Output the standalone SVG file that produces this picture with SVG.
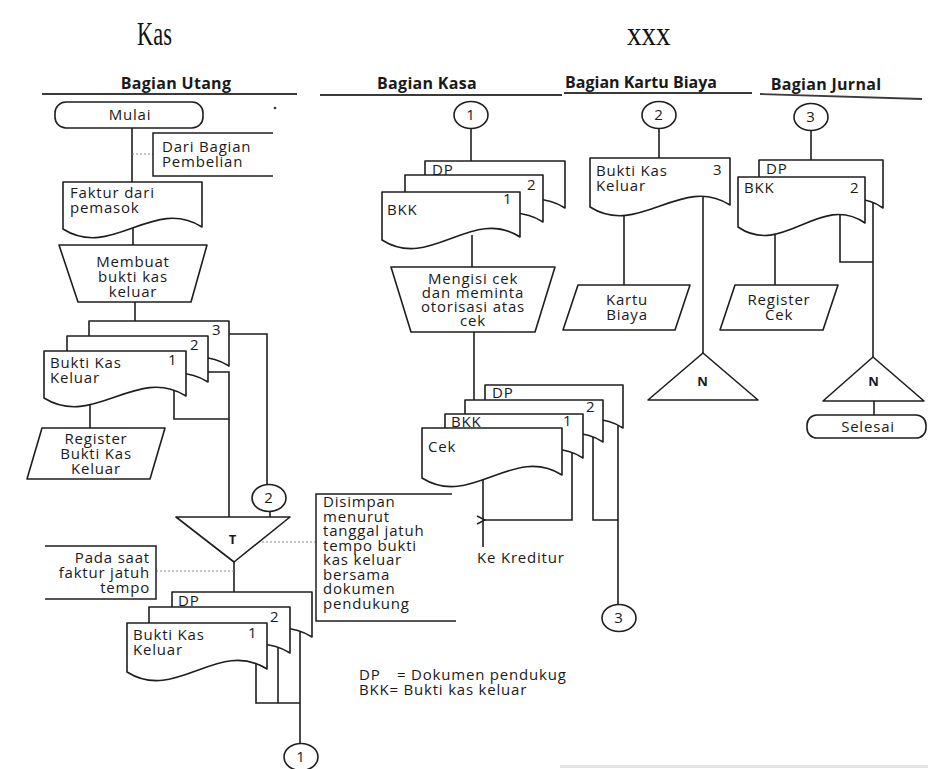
<svg xmlns="http://www.w3.org/2000/svg" width="928" height="769" viewBox="0 0 928 769">
<defs>
<style>
.ln{fill:none;stroke:#1e1e1e;stroke-width:1.6}
.nd{fill:#fff;stroke:#1e1e1e;stroke-width:1.6;stroke-linejoin:round}
.an{fill:none;stroke:#1e1e1e;stroke-width:1.5}
.dot{fill:none;stroke:#8a8a8a;stroke-width:1;stroke-dasharray:2 2}
.hl{fill:none;stroke:#3a3a3a;stroke-width:1.8}
.t{font-family:'Open Sans','Noto Sans',sans-serif;font-size:15px;letter-spacing:0.8px;fill:#1a1a1a}
.c{text-anchor:middle}
.r{text-anchor:end}
.h{font-family:'Open Sans','Noto Sans',sans-serif;font-weight:bold;font-size:16px;letter-spacing:0.3px;fill:#1a1a1a;text-anchor:middle}
.ttl{font-family:'Liberation Serif',serif;font-size:33px;fill:#111}
</style>
<marker id="arr" viewBox="0 0 10 10" refX="1" refY="5" markerWidth="10" markerHeight="10" markerUnits="userSpaceOnUse" orient="auto">
<path d="M9,1 L1,5 L9,9" fill="none" stroke="#1e1e1e" stroke-width="1.4"/>
</marker>
</defs>
<rect width="928" height="769" fill="#fff"/>
<rect x="560" y="765" width="368" height="3" fill="#e4e4e4"/>

<!-- page title -->
<text class="ttl" transform="translate(137,45) scale(0.68,1)">Kas</text>
<text class="ttl" transform="translate(627,45) scale(0.88,1)">xxx</text>

<!-- swimlane headers -->
<g id="lanes">
<text class="h" x="176" y="89">Bagian Utang</text>
<line class="hl" x1="42" y1="94" x2="297" y2="94"/>
<text class="h" x="427" y="89">Bagian Kasa</text>
<line class="hl" x1="320" y1="95" x2="562" y2="95"/>
<text class="h" x="641" y="88" style="letter-spacing:0">Bagian Kartu Biaya</text>
<line class="hl" x1="564" y1="93" x2="752" y2="93"/>
<text class="h" x="826" y="90">Bagian Jurnal</text>
<line class="hl" x1="760" y1="94" x2="922" y2="99"/>
<circle cx="275" cy="108" r="1.3" fill="#333"/>
</g>

<!-- connectors -->
<g id="connectors">
<!-- Bagian Utang -->
<path class="ln" d="M132,128 V182"/>
<path class="dot" d="M132,154 H153"/>
<path class="ln" d="M133,228 V245"/>
<path class="ln" d="M135,302 V321"/>
<path class="ln" d="M90,404 V428"/>
<path class="ln" d="M174,385 V419 H229"/>
<path class="ln" d="M205,372 H229 V517"/>
<path class="ln" d="M225,334 H267 V484"/>
<path class="ln" d="M270,511 V517"/>
<path class="dot" d="M262,542 H316"/>
<path class="ln" d="M234,562 V592"/>
<path class="dot" d="M156,571 H234"/>
<path class="ln" d="M256,660 V703 H300"/>
<path class="ln" d="M278,645 V703"/>
<path class="ln" d="M300,630 V743"/>
<!-- Bagian Kasa -->
<path class="ln" d="M471,128 V161"/>
<path class="ln" d="M472,235 V267"/>
<path class="ln" d="M474,332 V400"/>
<path class="ln" d="M483,470 V547"/>
<path class="ln" d="M572,450 V520 H485" marker-end="url(#arr)"/>
<path class="ln" d="M593,435 V520 H618"/>
<path class="ln" d="M618,420 V604"/>
<!-- Bagian Kartu Biaya -->
<path class="ln" d="M659,128 V158"/>
<path class="ln" d="M624,205 V285"/>
<path class="ln" d="M703,195 V353"/>
<!-- Bagian Jurnal -->
<path class="ln" d="M811,130 V160"/>
<path class="ln" d="M775,220 V285"/>
<path class="ln" d="M840,210 V262 H873"/>
<path class="ln" d="M873,200 V357"/>
<path class="ln" d="M874,401 V415"/>
</g>

<!-- Bagian Utang nodes -->
<g id="mulai">
<rect class="nd" x="55" y="102" width="148" height="26" rx="11"/>
<text class="t c" x="130" y="120">Mulai</text>
</g>
<g id="dari-pembelian">
<path class="an" d="M273,133 H153 V176 H273"/>
<text class="t" x="162" y="152">Dari Bagian</text>
<text class="t" x="162" y="167">Pembelian</text>
</g>
<g id="faktur">
<path class="nd" d="M63,229 V182 H202 V227 C153,196 112,260 63,229 Z"/>
<text class="t" x="70" y="198">Faktur dari</text>
<text class="t" x="70" y="213">pemasok</text>
</g>
<g id="membuat-bkk">
<path class="nd" d="M59,245 H207 L191,302 H78 Z"/>
<text class="t c" x="133" y="267">Membuat</text>
<text class="t c" x="133" y="282">bukti kas</text>
<text class="t c" x="133" y="297">keluar</text>
</g>
<g id="bkk-rangkap">
<path class="nd" d="M89,368 V321 H229 V366 C180,335 138,399 89,368 Z"/>
<path class="nd" d="M67,384 V336 H208 V382 C158.6,351 116.4,415 67,384 Z"/>
<path class="nd" d="M44,398 V351 H186 V396 C136.3,365 93.7,429 44,398 Z"/>
<text class="t" x="212" y="335">3</text>
<text class="t" x="190" y="350">2</text>
<text class="t" x="168" y="365">1</text>
<text class="t" x="50" y="368">Bukti Kas</text>
<text class="t" x="50" y="383">Keluar</text>
</g>
<g id="register-bkk">
<path class="nd" d="M42,428 H165 L150,479 H27 Z"/>
<text class="t c" x="96" y="444">Register</text>
<text class="t c" x="96" y="459">Bukti Kas</text>
<text class="t c" x="96" y="474">Keluar</text>
</g>
<g id="off-2-utang">
<ellipse class="nd" cx="269" cy="498" rx="17" ry="13.5"/>
<text class="t c" x="269" y="503">2</text>
</g>
<g id="arsip-t">
<path class="nd" d="M176,517 H290 L234,562 Z"/>
<text class="t c" x="233" y="544" style="font-size:13px;font-weight:bold">T</text>
</g>
<g id="disimpan">
<path class="an" d="M452,494 H316 V621 H456"/>
<text class="t" x="323" y="507">Disimpan</text>
<text class="t" x="323" y="521.5">menurut</text>
<text class="t" x="323" y="536">tanggal jatuh</text>
<text class="t" x="323" y="550.5">tempo bukti</text>
<text class="t" x="323" y="565">kas keluar</text>
<text class="t" x="323" y="579.5">bersama</text>
<text class="t" x="323" y="594">dokumen</text>
<text class="t" x="323" y="608.5">pendukung</text>
</g>
<g id="jatuh-tempo">
<path class="an" d="M45,546 H156 V599 H45"/>
<text class="t r" x="150" y="563">Pada saat</text>
<text class="t r" x="150" y="578">faktur jatuh</text>
<text class="t r" x="150" y="593">tempo</text>
</g>
<g id="bkk-dp-utang">
<path class="nd" d="M172,639 V592 H312 V637 C263,606 221,670 172,639 Z"/>
<path class="nd" d="M149,655 V607 H290 V653 C240.6,622 198.4,686 149,655 Z"/>
<path class="nd" d="M127,672 V623 H267 V669 C218,638 176,703 127,672 Z"/>
<text class="t" x="178" y="606">DP</text>
<text class="t" x="270" y="622">2</text>
<text class="t" x="248" y="638">1</text>
<text class="t" x="133" y="640">Bukti Kas</text>
<text class="t" x="133" y="655">Keluar</text>
</g>
<g id="off-1-utang">
<ellipse class="nd" cx="301" cy="757" rx="17" ry="13.5"/>
<text class="t c" x="301" y="762">1</text>
</g>

<!-- Bagian Kasa nodes -->
<g id="off-1-kasa">
<ellipse class="nd" cx="471" cy="115" rx="17" ry="13.5"/>
<text class="t c" x="471" y="120">1</text>
</g>
<g id="bkk-dp-kasa">
<path class="nd" d="M425,210 V161 H565 V208 C516,177 474,241 425,210 Z"/>
<path class="nd" d="M405,224 V175 H543 V222 C494.7,191 453.3,255 405,224 Z"/>
<path class="nd" d="M382,240 V192 H520 V237 C471.7,206 430.3,271 382,240 Z"/>
<text class="t" x="432" y="175">DP</text>
<text class="t" x="527" y="190">2</text>
<text class="t" x="503" y="204">1</text>
<text class="t" x="387" y="215">BKK</text>
</g>
<g id="mengisi-cek">
<path class="nd" d="M391,267 H555 L535,332 H411 Z"/>
<text class="t c" x="473" y="284">Mengisi cek</text>
<text class="t c" x="473" y="298">dan meminta</text>
<text class="t c" x="473" y="312">otorisasi atas</text>
<text class="t c" x="473" y="326">cek</text>
</g>
<g id="cek-stack">
<path class="nd" d="M485,430 V385 H623 V428 C574.7,397 533.3,461 485,430 Z"/>
<path class="nd" d="M465,444 V400 H603 V442 C554.7,411 513.3,475 465,444 Z"/>
<path class="nd" d="M445,460 V414 H583 V458 C534.7,427 493.3,491 445,460 Z"/>
<path class="nd" d="M422,478 V428 H562 V475 C513,444 471,509 422,478 Z"/>
<text class="t" x="492" y="398">DP</text>
<text class="t" x="586" y="412">2</text>
<text class="t" x="451" y="427">BKK</text>
<text class="t" x="563" y="426">1</text>
<text class="t" x="428" y="452">Cek</text>
</g>
<g id="ke-kreditur">
<text class="t" x="477" y="563">Ke Kreditur</text>
</g>
<g id="off-3-kasa">
<ellipse class="nd" cx="619" cy="618" rx="17" ry="13.5"/>
<text class="t c" x="619" y="623">3</text>
</g>

<!-- Bagian Kartu Biaya nodes -->
<g id="off-2-kartu">
<ellipse class="nd" cx="659" cy="115" rx="17" ry="13.5"/>
<text class="t c" x="659" y="120">2</text>
</g>
<g id="bkk-3">
<path class="nd" d="M590,207 V158 H730 V205 C681,174 639,238 590,207 Z"/>
<text class="t" x="596" y="176">Bukti Kas</text>
<text class="t" x="596" y="191">Keluar</text>
<text class="t" x="713" y="175">3</text>
</g>
<g id="kartu-biaya">
<path class="nd" d="M578,285 H690 L675,330 H563 Z"/>
<text class="t c" x="627" y="305">Kartu</text>
<text class="t c" x="627" y="320">Biaya</text>
</g>
<g id="arsip-n-kartu">
<path class="nd" d="M703,353 L758,400 H648 Z"/>
<text class="t c" x="703" y="386" style="font-size:13px;font-weight:bold">N</text>
</g>

<!-- Bagian Jurnal nodes -->
<g id="off-3-jurnal">
<ellipse class="nd" cx="811" cy="117" rx="17" ry="13.5"/>
<text class="t c" x="811" y="122">3</text>
</g>
<g id="bkk-dp-jurnal">
<path class="nd" d="M759,210 V160 H883 V208 C839.6,177 802.4,241 759,210 Z"/>
<path class="nd" d="M738,227 V177 H865 V223 C820.5,192 782.5,258 738,227 Z"/>
<text class="t" x="766" y="174">DP</text>
<text class="t" x="744" y="193">BKK</text>
<text class="t" x="850" y="193">2</text>
</g>
<g id="register-cek">
<path class="nd" d="M735,285 H838 L823,330 H720 Z"/>
<text class="t c" x="779" y="305">Register</text>
<text class="t c" x="779" y="320">Cek</text>
</g>
<g id="arsip-n-jurnal">
<path class="nd" d="M873,357 L924,401 H823 Z"/>
<text class="t c" x="874" y="386" style="font-size:13px;font-weight:bold">N</text>
</g>
<g id="selesai">
<rect class="nd" x="807" y="415" width="119" height="23" rx="10"/>
<text class="t c" x="868" y="432">Selesai</text>
</g>

<!-- legend -->
<g id="legend">
<text class="t" x="359" y="680">DP</text>
<text class="t" x="397" y="680">= Dokumen pendukug</text>
<text class="t" x="359" y="695">BKK= Bukti kas keluar</text>
</g>
</svg>
